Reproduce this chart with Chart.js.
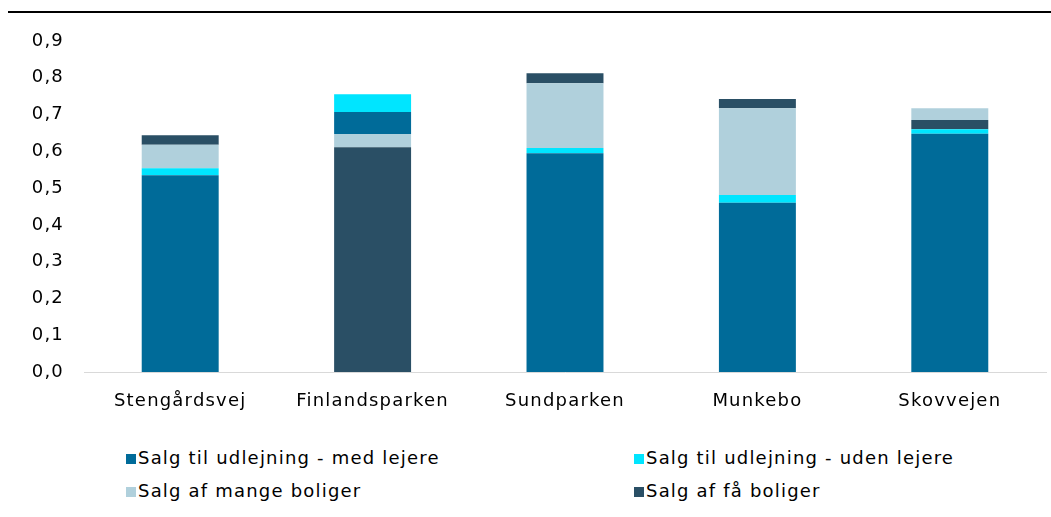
<!DOCTYPE html>
<html>
<head>
<meta charset="utf-8">
<script src="https://cdn.jsdelivr.net/npm/chart.js@4"></script>
<style>
    body { margin: 0; background: #fff; font-family: "DejaVu Sans", sans-serif; }
    #wrap { position: relative; width: 1051px; height: 517px; }
    #topline { position: absolute; left: 8px; right: 0; top: 11px; height: 2px; background: #000; }
    #chartBox { position: absolute; left: 0; top: 0; width: 1051px; height: 425px; }
    #legend { position: absolute; left: 0; top: 447px; width: 1051px; }
    .item { position: absolute; font-size: 18px; letter-spacing: 1.2px; color: #000; white-space: nowrap; }
    .item span { display: inline-block; width: 10px; height: 10px; margin-right: 2px; }
</style>
</head>
<body>
<div id="wrap">
    <div id="topline"></div>
    <div id="chartBox"><canvas id="salesChart"></canvas></div>
    <div id="legend"></div>
</div>
<script>
// Categories and series values
const areas = ['Stengårdsvej', 'Finlandsparken', 'Sundparken', 'Munkebo', 'Skovvejen'];
const medLejere = [0.535, 0.060, 0.595, 0.460, 0.648];
const udenLejere = [0.019, 0.048, 0.014, 0.021, 0.012];
const mangeBoliger = [0.064, 0.036, 0.176, 0.236, 0.032];
const faaBoliger = [0.026, 0.611, 0.027, 0.025, 0.025];
const yTicks = [0, 0.1, 0.2, 0.3, 0.4, 0.5, 0.6, 0.7, 0.8, 0.9];

// the stacking order is not the same in every bar
const stackOrder = [
    ['med', 'uden', 'mange', 'faa'],
    ['faa', 'mange', 'med', 'uden'],
    ['med', 'uden', 'mange', 'faa'],
    ['med', 'uden', 'mange', 'faa'],
    ['med', 'uden', 'faa', 'mange']
];

const series = {
    med: { label: 'Salg til udlejning - med lejere', values: medLejere, color: '#006b99' },
    uden: { label: 'Salg til udlejning - uden lejere', values: udenLejere, color: '#00e5ff' },
    mange: { label: 'Salg af mange boliger', values: mangeBoliger, color: '#b0d0dc' },
    faa: { label: 'Salg af få boliger', values: faaBoliger, color: '#2a4f65' }
};

// one dataset per layer of the stack, coloured per bar
const datasets = [0, 1, 2, 3].map(layer => ({
    label: 'layer' + layer,
    data: areas.map((a, i) => series[stackOrder[i][layer]].values[i]),
    backgroundColor: areas.map((a, i) => series[stackOrder[i][layer]].color),
    barPercentage: 0.4,
    categoryPercentage: 1.0
}));

// wider letter spacing, closer to the original font
const spacingPlugin = {
    id: 'spacing',
    beforeUpdate(chart) { chart.ctx.letterSpacing = '1.2px'; },
    beforeDraw(chart) { chart.ctx.letterSpacing = '1.2px'; }
};

const ctx = document.getElementById('salesChart').getContext('2d');
const salesChart = new Chart(ctx, {
    type: 'bar',
    data: { labels: areas, datasets: datasets },
    plugins: [spacingPlugin],
    options: {
        responsive: true,
        maintainAspectRatio: false,
        animation: false,
        layout: { padding: { top: 41, right: 5, left: 0, bottom: 0 } },
        plugins: {
            legend: { display: false },
            tooltip: { enabled: false }
        },
        scales: {
            x: {
                stacked: true,
                grid: { display: false, drawTicks: false },
                border: { color: '#d9d9d9', width: 1 },
                ticks: { color: '#000', padding: 19, font: { family: 'DejaVu Sans', size: 18 } },
                afterFit: s => { s.height = 53; }
            },
            y: {
                stacked: true,
                min: 0,
                max: 0.9,
                afterBuildTicks: s => { s.ticks = yTicks.map(v => ({ value: v })); },
                grid: { display: false, drawTicks: false },
                border: { display: false },
                ticks: {
                    color: '#000',
                    padding: 20,
                    font: { family: 'DejaVu Sans', size: 18 },
                    callback: v => v.toFixed(1).replace('.', ',')
                },
                afterFit: s => { s.width = 84; }
            }
        }
    }
});

// legend in two columns
const legendBox = document.getElementById('legend');
const legendPos = [[126, 0], [634, 0], [126, 33], [634, 33]];
['med', 'uden', 'mange', 'faa'].forEach((key, i) => {
    const el = document.createElement('div');
    el.className = 'item';
    el.style.left = legendPos[i][0] + 'px';
    el.style.top = legendPos[i][1] + 'px';
    el.innerHTML = `<span style="background:${series[key].color}"></span>${series[key].label}`;
    legendBox.appendChild(el);
});
</script>
</body>
</html>
